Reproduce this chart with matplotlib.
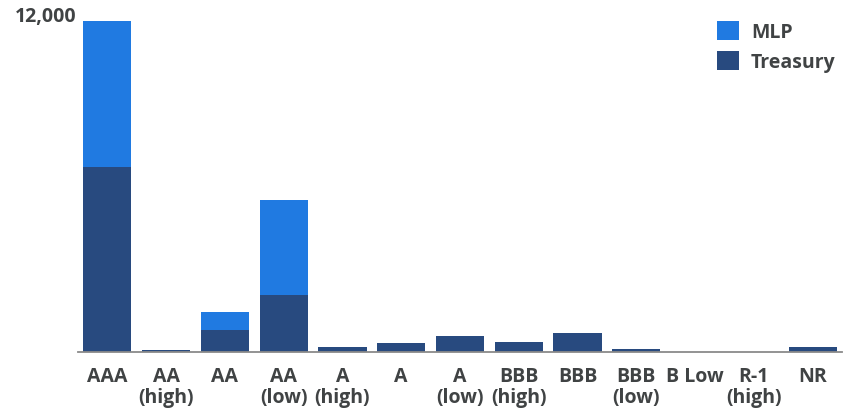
import matplotlib
matplotlib.use("Agg")
import matplotlib.pyplot as plt

categories = ["AAA", "AA\n(high)", "AA", "AA\n(low)", "A\n(high)", "A", "A\n(low)",
              "BBB\n(high)", "BBB", "BBB\n(low)", "B Low", "R-1\n(high)", "NR"]
treasury = [6700, 80, 800, 2070, 180, 330, 580, 360, 690, 110, 0, 0, 180]
mlp = [5300, 0, 650, 3440, 0, 0, 0, 0, 0, 0, 0, 0, 0]
ytick_values = [12000]
ytick_labels = ["12,000"]

MLP_COLOR = "#207AE1"
TREASURY_COLOR = "#284A7F"
TEXT_COLOR = "#404344"
FONT = ["Open Sans", "DejaVu Sans"]

plt.rcParams["font.family"] = FONT

fig = plt.figure(figsize=(8.51, 4.10), dpi=100)
W, H = 851, 410
ax = fig.add_axes([78 / W, 1 - 353 / H, (842 - 78) / W, (353 - 22) / H])

x = list(range(len(categories)))
b_tr = ax.bar(x, treasury, width=0.82, color=TREASURY_COLOR, label="Treasury")
b_mlp = ax.bar(x, mlp, bottom=treasury, width=0.82, color=MLP_COLOR, label="MLP")

ax.set_xlim(-0.5, len(categories) - 0.5)
ax.set_ylim(0, 12000)

for side in ("top", "right", "left"):
    ax.spines[side].set_visible(False)
ax.spines["bottom"].set_color("#8a8a8a")
ax.spines["bottom"].set_linewidth(1.3)

ax.set_xticks(x)
ax.set_xticklabels(categories, fontsize=14, fontweight="bold", color=TEXT_COLOR,
                   linespacing=1.1)
ax.tick_params(axis="x", length=0, pad=10)

ax.set_yticks(ytick_values)
ax.set_yticklabels(ytick_labels, fontsize=14, fontweight="bold", color=TEXT_COLOR)
ax.tick_params(axis="y", length=0, pad=1)
for lbl in ax.get_yticklabels():
    lbl.set_verticalalignment("baseline")

leg = ax.legend(handles=[b_mlp, b_tr], labels=["MLP", "Treasury"],
                loc="upper left", bbox_to_anchor=(717 / W, 1 - 22 / H),
                bbox_transform=fig.transFigure, frameon=False,
                handlelength=1.15, handleheight=1.15, handletextpad=0.6,
                labelspacing=0.45, borderpad=0, borderaxespad=0,
                prop={"family": FONT, "weight": "bold", "size": 14})
for t in leg.get_texts():
    t.set_color(TEXT_COLOR)

fig.savefig("out.png", dpi=100)
